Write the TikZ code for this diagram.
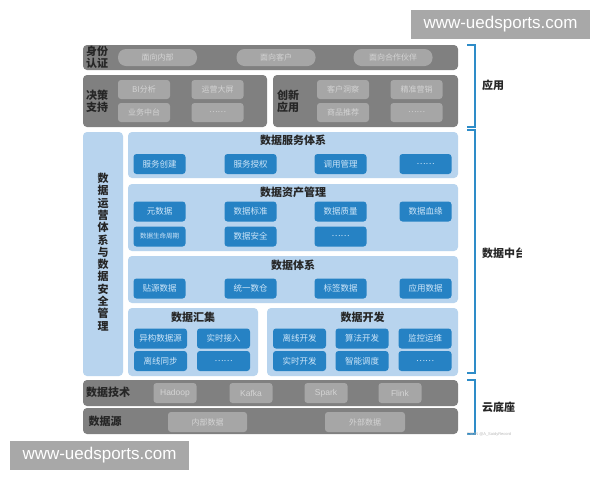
\documentclass[tikz,border=0pt]{standalone}
\usepackage{fontspec}
\setmainfont{Liberation Sans}
\newfontfamily\cjk{Noto Sans CJK SC}
\definecolor{bargray}{RGB}{128,128,128}
\definecolor{pillgray}{RGB}{166,166,166}
\definecolor{pilltext}{RGB}{212,212,212}
\definecolor{panelblue}{RGB}{184,212,238}
\definecolor{btnblue}{RGB}{38,130,196}
\definecolor{btntext}{RGB}{205,229,248}
\definecolor{brkblue}{RGB}{46,140,200}
\definecolor{wmgray}{RGB}{168,168,168}
\begin{document}
\begin{tikzpicture}[x=1pt,y=-1pt,
    every node/.style={font=\cjk, inner sep=0pt},
    bar/.style={fill=bargray, rounded corners=4pt},
    pill/.style={fill=pillgray, text=pilltext, rounded corners=3pt, font=\cjk\fontsize{8}{9}\selectfont},
    panel/.style={fill=panelblue, rounded corners=4pt},
    btn/.style={fill=btnblue, text=btntext, rounded corners=3pt, minimum width=52pt, minimum height=20pt, font=\cjk\fontsize{8.5}{9}\selectfont},
    lbl/.style={align=center, text=black!85, font=\cjk\bfseries\fontsize{11}{12}\selectfont},
    brk/.style={draw=brkblue, line width=1.5pt},
    wm/.style={fill=wmgray, text=white, minimum width=179pt, minimum height=29pt, font=\normalfont\fontsize{17}{17}\selectfont}]
  \fill[white] (0,0) rectangle (600,480);

  % application
  \node[bar, minimum width=375pt, minimum height=25pt] (sfrz) at (270.5,57.5) {};
  \node[lbl] (sfrzt) at (97,57.5) {身份\\认证};
  \foreach \x/\t [count=\i] in {157.5/面向内部, 276/面向客户, 393/面向合作伙伴}
    \node[pill, rounded corners=8pt, minimum width=79pt, minimum height=17pt] (mx\i) at (\x,57.5) {\t};

  \node[bar, minimum width=184pt, minimum height=52pt] (jczc) at (175,101) {};
  \node[lbl] (jczct) at (97,101) {决策\\支持};
  \foreach \x/\y/\t [count=\i] in {144/89.5/BI分析, 217.5/89.5/运营大屏, 144/112.5/业务中台, 217.5/112.5/……}
    \node[pill, minimum width=52pt, minimum height=19pt] (jc\i) at (\x,\y) {\t};

  \node[bar, minimum width=185pt, minimum height=52pt] (cxyy) at (365.5,101) {};
  \node[lbl] (cxyyt) at (288,101) {创新\\应用};
  \foreach \x/\y/\t [count=\i] in {343/89.5/客户洞察, 416.5/89.5/精准营销, 343/112.5/商品推荐, 416.5/112.5/……}
    \node[pill, minimum width=52pt, minimum height=19pt] (cx\i) at (\x,\y) {\t};

  % data middle platform
  \node[panel, minimum width=40pt, minimum height=244pt] (yyaq) at (103,254) {};
  \node[lbl, font=\cjk\bfseries\fontsize{11}{12.3}\selectfont] (yyaqt) at (103,252)
    {数\\据\\运\\营\\体\\系\\与\\数\\据\\安\\全\\管\\理};

  \node[panel, minimum width=330pt, minimum height=46pt] (fwtx) at (293,155) {};
  \node[lbl] (fwtxt) at (293,140) {数据服务体系};
  \foreach \x/\t [count=\i] in {159.5/服务创建, 250.5/服务授权, 340.5/调用管理, 425.5/……}
    \node[btn] (fw\i) at (\x,164) {\t};

  \node[panel, minimum width=330pt, minimum height=67pt] (zcgl) at (293,217.5) {};
  \node[lbl] (zcglt) at (293,192) {数据资产管理};
  \foreach \x/\t [count=\i] in {159.5/元数据, 250.5/数据标准, 340.5/数据质量, 425.5/数据血缘}
    \node[btn] (zc\i) at (\x,211.5) {\t};
  \node[btn, font=\cjk\fontsize{6.5}{7}\selectfont] (zc5) at (159.5,236.5) {数据生命周期};
  \node[btn] (zc6) at (250.5,236.5) {数据安全};
  \node[btn] (zc7) at (340.5,236.5) {……};

  \node[panel, minimum width=330pt, minimum height=47pt] (sjtx) at (293,279.5) {};
  \node[lbl] (sjtxt) at (293,265) {数据体系};
  \foreach \x/\t [count=\i] in {159.5/贴源数据, 250.5/统一数仓, 340.5/标签数据, 425.5/应用数据}
    \node[btn] (tx\i) at (\x,288.5) {\t};

  \node[panel, minimum width=130pt, minimum height=68pt] (sjhj) at (193,342) {};
  \node[lbl] (sjhjt) at (193,317) {数据汇集};
  \foreach \x/\y/\t [count=\i] in {160.5/338.5/异构数据源, 223.5/338.5/实时接入, 160.5/361/离线同步, 223.5/361/……}
    \node[btn, minimum width=53pt] (hj\i) at (\x,\y) {\t};

  \node[panel, minimum width=191pt, minimum height=68pt] (sjkf) at (362.5,342) {};
  \node[lbl] (sjkft) at (362.5,317) {数据开发};
  \foreach \x/\y/\t [count=\i] in {299.5/338.5/离线开发, 362/338.5/算法开发, 425/338.5/监控运维, 299.5/361/实时开发, 362/361/智能调度, 425/361/……}
    \node[btn, minimum width=53pt] (kf\i) at (\x,\y) {\t};

  % cloud base
  \node[bar, minimum width=375pt, minimum height=26pt] (sjjs) at (270.5,393) {};
  \node[lbl] (sjjst) at (108,392) {数据技术};
  \foreach \x/\t [count=\i] in {175/Hadoop, 251/Kafka, 326/Spark, 400/Flink}
    \node[pill, minimum width=43pt, minimum height=20pt, font=\normalfont\fontsize{8.5}{9}\selectfont] (js\i) at (\x,393) {\t};

  \node[bar, minimum width=375pt, minimum height=26pt] (sjy) at (270.5,421) {};
  \node[lbl] (sjyt) at (105,421) {数据源};
  \node[pill, minimum width=79pt, minimum height=20pt] (ly1) at (207.5,422) {内部数据};
  \node[pill, minimum width=80pt, minimum height=20pt] (ly2) at (365,422) {外部数据};

  % brackets
  \draw[brk] (467,45) -| (475,127) -- (467,127);
  \draw[brk] (467,130) -| (475,373) -- (467,373);
  \draw[brk] (467,380) -| (475,434) -- (467,434);
  \node[lbl, anchor=west] (yyl) at (482,85) {应用};
  \begin{scope}
    \clip (0,0) rectangle (521,480);
    \node[lbl, anchor=west] (zt) at (482,253) {数据中台};
  \end{scope}
  \node[lbl, anchor=west] (ddz) at (482,407) {云底座};
  \node[text=gray!55, font=\normalfont\fontsize{4}{4}\selectfont] (csdn) at (489,434) {CSDN @A\_SaidyRecord};

  % watermarks
  \node[wm] (wm1) at (500.5,24.5) {www-uedsports.com};
  \node[wm] (wm2) at (99.5,455) {www-uedsports.com};
\end{tikzpicture}
\end{document}
